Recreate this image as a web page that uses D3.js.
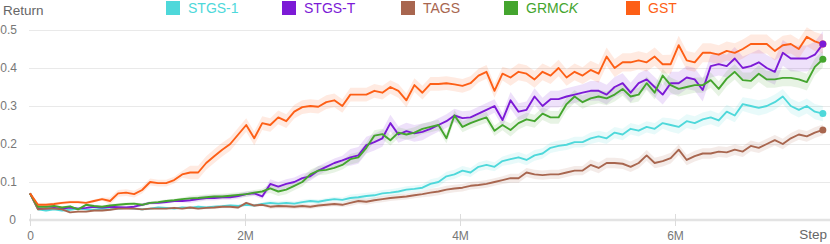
<!DOCTYPE html>
<html><head><meta charset="utf-8">
<script src="https://cdn.jsdelivr.net/npm/d3@7"></script>
<style>
html,body{margin:0;padding:0;background:#fff;}
svg{display:block;font-family:"Liberation Sans",Arial,sans-serif;}
</style></head>
<body><svg id="c" width="830" height="244"></svg>
<script>
// ---- data ----
const seriesNames = ["STGS-1","STGS-T","TAGS","GRMCK","GST"];
const seriesColors = ["#4ed8da","#7c1ad6","#a8664f","#44a52e","#fd5f16"];
const stepSize = 74500; // environment steps between logged points
const yTicks = [0,0.1,0.2,0.3,0.4,0.5];
const xTicks = [0,2e6,4e6,6e6];
const xTickLabels = ["0","2M","4M","6M"];

const stgs1 = [0.07,0.028,0.025,0.028,0.025,0.027,0.03,0.028,0.027,0.03,
0.028,0.03,0.032,0.03,0.028,0.03,0.033,0.032,0.03,0.033,
0.032,0.035,0.033,0.035,0.036,0.038,0.037,0.04,0.038,0.042,
0.045,0.043,0.045,0.043,0.047,0.05,0.048,0.052,0.055,0.053,
0.058,0.06,0.063,0.065,0.07,0.072,0.075,0.08,0.082,0.085,
0.095,0.1,0.115,0.12,0.13,0.125,0.14,0.145,0.14,0.155,
0.16,0.165,0.158,0.17,0.175,0.19,0.195,0.198,0.205,0.205,
0.215,0.22,0.215,0.23,0.225,0.24,0.235,0.245,0.24,0.255,
0.25,0.245,0.26,0.255,0.265,0.27,0.262,0.285,0.275,0.305,
0.3,0.295,0.3,0.31,0.325,0.3,0.29,0.3,0.285,0.28];

const stgsT = [0.07,0.03,0.03,0.032,0.03,0.033,0.03,0.032,0.035,0.033,
0.035,0.034,0.033,0.035,0.04,0.045,0.045,0.047,0.05,0.05,
0.052,0.055,0.058,0.058,0.06,0.06,0.063,0.068,0.07,0.062,
0.095,0.088,0.095,0.1,0.11,0.115,0.13,0.14,0.15,0.157,
0.165,0.17,0.197,0.205,0.215,0.255,0.225,0.234,0.228,0.232,
0.24,0.25,0.26,0.275,0.268,0.27,0.28,0.29,0.3,0.263,
0.315,0.285,0.29,0.325,0.3,0.318,0.318,0.325,0.33,0.335,
0.34,0.34,0.33,0.35,0.36,0.335,0.36,0.37,0.35,0.33,
0.36,0.36,0.375,0.37,0.342,0.405,0.41,0.405,0.425,0.4,
0.405,0.415,0.4,0.39,0.44,0.425,0.425,0.425,0.435,0.463];

const tags = [0.07,0.028,0.03,0.03,0.028,0.02,0.022,0.022,0.025,0.025,
0.027,0.03,0.03,0.03,0.028,0.03,0.03,0.03,0.032,0.03,
0.033,0.03,0.032,0.033,0.035,0.035,0.033,0.045,0.038,0.04,
0.035,0.037,0.036,0.035,0.037,0.035,0.038,0.04,0.042,0.04,
0.045,0.05,0.048,0.052,0.055,0.058,0.06,0.062,0.065,0.068,
0.072,0.075,0.08,0.083,0.085,0.09,0.092,0.095,0.1,0.105,
0.11,0.11,0.125,0.12,0.118,0.12,0.12,0.125,0.13,0.13,
0.145,0.137,0.15,0.15,0.148,0.14,0.15,0.17,0.15,0.155,
0.163,0.185,0.158,0.168,0.175,0.175,0.18,0.178,0.185,0.18,
0.195,0.19,0.2,0.21,0.2,0.215,0.225,0.22,0.23,0.237];

const grmck = [0.07,0.035,0.035,0.037,0.033,0.036,0.028,0.04,0.037,0.035,
0.038,0.04,0.042,0.043,0.04,0.045,0.047,0.05,0.052,0.055,
0.057,0.058,0.06,0.062,0.062,0.064,0.066,0.068,0.072,0.075,
0.083,0.075,0.08,0.09,0.1,0.12,0.13,0.132,0.137,0.145,
0.16,0.165,0.19,0.222,0.226,0.21,0.23,0.225,0.23,0.24,
0.245,0.25,0.215,0.275,0.245,0.255,0.263,0.27,0.235,0.25,
0.237,0.255,0.265,0.26,0.28,0.27,0.27,0.305,0.325,0.31,
0.32,0.325,0.32,0.33,0.345,0.325,0.33,0.36,0.335,0.38,
0.355,0.345,0.35,0.355,0.355,0.368,0.345,0.372,0.39,0.368,
0.366,0.385,0.37,0.37,0.374,0.374,0.37,0.363,0.403,0.423];

const gst = [0.07,0.04,0.04,0.042,0.045,0.047,0.047,0.045,0.05,0.055,
0.05,0.07,0.072,0.068,0.079,0.1,0.097,0.097,0.105,0.12,
0.125,0.125,0.15,0.168,0.185,0.2,0.225,0.25,0.215,0.255,
0.25,0.27,0.26,0.285,0.297,0.3,0.298,0.31,0.315,0.3,
0.33,0.33,0.33,0.34,0.335,0.35,0.34,0.315,0.355,0.335,
0.358,0.358,0.36,0.357,0.353,0.36,0.38,0.39,0.34,0.385,
0.375,0.39,0.385,0.37,0.39,0.38,0.4,0.375,0.39,0.38,
0.395,0.385,0.43,0.4,0.415,0.415,0.42,0.415,0.43,0.41,
0.41,0.46,0.42,0.415,0.44,0.44,0.435,0.445,0.44,0.45,
0.463,0.463,0.463,0.445,0.46,0.463,0.45,0.482,0.47,0.463];

// shaded band half-widths, one value per block of 10 logged points
const spreadStgs1 = [0.003,0.003,0.004,0.006,0.009,0.012,0.014,0.015,0.018,0.02];
const spreadStgsT = [0.003,0.004,0.007,0.012,0.022,0.018,0.022,0.026,0.03,0.034];
const spreadTags  = [0.003,0.003,0.004,0.006,0.008,0.01,0.012,0.014,0.014,0.014];
const spreadGrmck = [0.003,0.004,0.007,0.012,0.014,0.014,0.017,0.018,0.02,0.022];
const spreadGst   = [0.004,0.009,0.018,0.018,0.018,0.018,0.022,0.024,0.025,0.025];

const seriesValues = [stgs1, stgsT, tags, grmck, gst];
const seriesSpread = [spreadStgs1, spreadStgsT, spreadTags, spreadGrmck, spreadGst];

// ---- chart ----
const svg = d3.select("#c");
const W = 830;
const x = d3.scaleLinear().domain([0, 7.442e6]).range([30, 830]);
const y = d3.scaleLinear().domain([0, 0.5]).range([220, 30]);

// grid + y labels
const gy = svg.append("g").attr("transform","translate(29,0)")
  .call(d3.axisLeft(y).tickValues(yTicks.slice(1)).tickSize(-(W-29)).tickFormat(d3.format(".1f")));
gy.select(".domain").remove();
gy.selectAll(".tick line").attr("stroke","#e9e9e9").attr("stroke-width",1);
gy.selectAll(".tick text").attr("x",-12).attr("fill","#777").style("font-size","12px").style("font-family","'Liberation Sans',Arial,sans-serif");
svg.append("text").attr("x",16).attr("y",y(0)).attr("dy","0.32em").attr("text-anchor","end")
  .attr("fill","#777").style("font-size","12px").text(d3.format("d")(yTicks[0]));

// x axis
const gx = svg.append("g").attr("transform",`translate(0,${y(0)})`)
  .call(d3.axisBottom(x).tickValues(xTicks).tickSize(6).tickSizeOuter(0)
    .tickFormat((d,i)=>xTickLabels[i]));
gx.select(".domain").attr("stroke","#e3e3e3").attr("stroke-width",2.5).attr("d","M29,0H830");
gx.selectAll(".tick line").attr("stroke","#dcdcdc").attr("y1",-6).attr("y2",6);
gx.selectAll(".tick text").attr("y",11.5).attr("fill","#777").style("font-size","12px").style("font-family","'Liberation Sans',Arial,sans-serif");

svg.append("text").attr("x",3).attr("y",15).attr("fill","#666").style("font-size","13.5px").text("Return");
svg.append("text").attr("x",827).attr("y",239).attr("text-anchor","end").attr("fill","#666").style("font-size","13.5px").text("Step");

// bands
seriesValues.forEach((vals, s) => {
  const sp = seriesSpread[s];
  const area = d3.area()
    .x((d,i)=>x(i*stepSize))
    .y0((d,i)=>y(Math.max(0, d - sp[Math.floor(i/10)])))
    .y1((d,i)=>y(d + sp[Math.floor(i/10)]));
  svg.append("path").datum(vals).attr("d",area)
    .attr("fill",seriesColors[s]).attr("fill-opacity",0.13).attr("stroke","none");
});
// lines
seriesValues.forEach((vals, s) => {
  const line = d3.line().x((d,i)=>x(i*stepSize)).y(d=>y(d));
  svg.append("path").datum(vals).attr("d",line)
    .attr("fill","none").attr("stroke",seriesColors[s]).attr("stroke-width",1.9)
    .attr("stroke-linejoin","round");
});
// end dots (drawn in reverse so STGS-T sits on top of GST)
seriesValues.map((v,s)=>s).reverse().forEach(s => {
  const vals = seriesValues[s];
  const i = vals.length-1;
  svg.append("circle").attr("cx",x(i*stepSize)).attr("cy",y(vals[i])).attr("r",3.5)
    .attr("fill",seriesColors[s]);
});

// legend
const legendX = [166,282,401,504,626];
seriesNames.forEach((n,s)=>{
  const g = svg.append("g").attr("transform",`translate(${legendX[s]},0)`);
  g.append("rect").attr("x",0).attr("y",1).attr("width",14).attr("height",14).attr("fill",seriesColors[s]);
  const t = g.append("text").attr("x",22).attr("y",13).attr("fill",seriesColors[s]).style("font-size","14px");
  if (n === "GRMCK") {
    t.append("tspan").text("GRMC");
    t.append("tspan").style("font-style","italic").text("K");
  } else t.text(n);
});
</script></body></html>
